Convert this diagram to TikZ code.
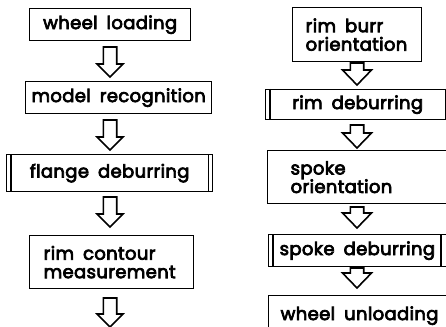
\documentclass[tikz,border=0pt]{standalone}
\usepackage{fontspec}
\setmainfont{Poppins}[FakeBold=4, LetterSpace=2]
\usetikzlibrary{calc}

% wide gap between the words of a label
\newcommand\wsp{\hspace{0.5em}}

\tikzset{
  box/.style={draw, line width=1.3pt, rectangle, inner sep=0pt, anchor=north west,
              font=\fontsize{18}{18.5}\selectfont},
  bar/.style={line width=1.3pt},
  blk/.style={draw, line width=1.6pt, line join=miter, fill=white},
}

% block arrow pointing down from coordinate #1 to coordinate #2,
% shaft half-width #3, head half-width #4, head length #5
\newcommand\blockdown[5]{%
  \draw[blk] let \p1=(#1), \p2=(#2) in
    (\x1-#3,\y1) -- (\x1+#3,\y1) -- (\x1+#3,\y2+#5) -- (\x1+#4,\y2+#5)
    -- (\x1,\y2) -- (\x1-#4,\y2+#5) -- (\x1-#3,\y2+#5) -- cycle;}

\begin{document}
\begin{tikzpicture}[x=1pt,y=-1pt]
\useasboundingbox (0,0) rectangle (446,326);
\clip (0,0) rectangle (446,326);

% left column
\node[box, minimum width=161, minimum height=32] (wl) at (29,8) {wheel\wsp loading};
\node[box, minimum width=186, minimum height=32] (mr) at (25,81) {model\wsp recognition};
\node[box, minimum width=206, minimum height=37] (fd) at (6,154) {flange\wsp deburring};
\draw[bar] ([xshift=5]fd.north west) -- ([xshift=5]fd.south west);
\draw[bar] ([xshift=-5]fd.north east) -- ([xshift=-5]fd.south east);
\node[box, align=left, text width=136, inner xsep=14, minimum height=53] (rc) at (29,235)
  {rim\wsp contour\\measurement};

% right column
\node[box, align=left, text width=103, inner xsep=13, minimum height=54] (rb) at (292,7)
  {rim\wsp burr\\orientation};
\node[box, minimum width=184, minimum height=30] (rd) at (265,89) {rim\wsp deburring};
\draw[bar] ([xshift=5]rd.north west) -- ([xshift=5]rd.south west);
\draw[bar] ([xshift=-5]rd.north east) -- ([xshift=-5]rd.south east);
\node[box, align=left, text width=150, inner xsep=23, minimum height=53] (so) at (267,150)
  {spoke\\orientation};
\node[box, align=left, text width=166, inner xsep=11, minimum height=32] (sd) at (268,234)
  {spoke\wsp deburring};
\draw[bar] ([xshift=5]sd.north west) -- ([xshift=5]sd.south west);
\draw[bar] (441,234) -- (441,266);
\node[box, align=left, text width=160, inner xsep=12, minimum height=40] (wu) at (268,295)
  {wheel\wsp unloading};

% flow arrows
\coordinate (l1s) at (110,47);  \coordinate (l1e) at (110,77);
\coordinate (l2s) at (110,120); \coordinate (l2e) at (110,150);
\coordinate (l3s) at (110,197); \coordinate (l3e) at (110,227);
\coordinate (l4s) at (110,298); \coordinate (l4e) at (110,327);
\blockdown{l1s}{l1e}{6.7}{13}{13}
\blockdown{l2s}{l2e}{6.7}{13}{13}
\blockdown{l3s}{l3e}{6.7}{13}{13}
\blockdown{l4s}{l4e}{6.7}{13}{13}

\coordinate (r1s) at (357,63);  \coordinate (r1e) at (357,85);
\coordinate (r2s) at (357,125); \coordinate (r2e) at (357,148);
\coordinate (r3s) at (357,207); \coordinate (r3e) at (357,228);
\coordinate (r4s) at (357,268); \coordinate (r4e) at (357,288);
\blockdown{r1s}{r1e}{6.7}{14.5}{15}
\blockdown{r2s}{r2e}{6.7}{14.5}{15}
\blockdown{r3s}{r3e}{6.7}{14.5}{15}
\blockdown{r4s}{r4e}{6.7}{14.5}{15}
\end{tikzpicture}
\end{document}
